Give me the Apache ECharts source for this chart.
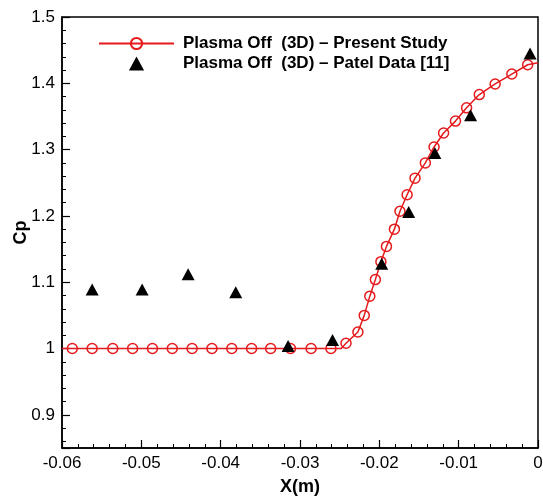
<!DOCTYPE html>
<html>
<head>
<meta charset="utf-8">
<script src="https://cdn.jsdelivr.net/npm/echarts@6/dist/echarts.min.js"></script>
<style>
html,body{margin:0;padding:0;background:#fff;}
#chart{width:543px;height:499px;}
</style>
</head>
<body>
<div id="chart"></div>
<script>
// Present study (CFD) marker points
var studyX = [-0.0587,-0.0562,-0.0536,-0.0511,-0.0486,-0.0461,-0.0436,-0.0411,-0.0386,-0.0361,-0.0337,-0.0312,-0.0286,-0.0261,
  -0.0242,-0.0227,-0.0219,-0.0212,-0.0205,-0.0198,-0.0191,-0.0181,-0.0174,-0.0165,-0.0155,-0.0142,-0.0131,-0.0119,-0.0104,-0.0090,-0.0074,-0.0054,-0.0033,-0.0013];
var studyCp = [1,1,1,1,1,1,1,1,1,1,1,1,1,1,
  1.008,1.025,1.050,1.079,1.104,1.131,1.154,1.180,1.207,1.232,1.257,1.280,1.304,1.325,1.343,1.363,1.383,1.399,1.414,1.428];
// Extra curve vertices without markers (start, kink, end)
var curveExtraX = [-0.06, -0.0248, 0];
var curveExtraCp = [1, 1, 1.431];
// Patel experimental data
var patelX = [-0.0562,-0.0499,-0.0441,-0.0381,-0.0315,-0.0259,-0.0197,-0.0163,-0.0130,-0.0085,-0.0010];
var patelCp = [1.089,1.089,1.112,1.085,1.004,1.013,1.128,1.206,1.295,1.352,1.445];

var seriesNames = ['Plasma Off  (3D) \u2013 Present Study', 'Plasma Off  (3D) \u2013 Patel Data [11]'];

var curve = [];
studyX.forEach(function(x,i){ curve.push({value:[x, studyCp[i]]}); });
curveExtraX.forEach(function(x,i){ curve.push({value:[x, curveExtraCp[i]], symbol:'none'}); });
curve.sort(function(a,b){ return a.value[0]-b.value[0]; });

var patel = patelX.map(function(x,i){ return [x, patelCp[i]]; });

var red = '#e41a1c';
var font = 'Liberation Sans, Arial, sans-serif';
var chart = echarts.init(document.getElementById('chart'), null, {renderer:'canvas'});
chart.setOption({
  animation:false,
  backgroundColor:'#fff',
  textStyle:{fontFamily:font},
  grid:{left:62, right:5, top:17, bottom:51, show:true, borderColor:'#000', borderWidth:1.5, containLabel:false, outerBoundsMode:'none'},
  legend:{
    orient:'vertical', left:93, top:30, itemWidth:75, itemHeight:14, itemGap:3,
    textStyle:{fontFamily:font, fontSize:17, fontWeight:'bold', color:'#000', padding:[0,0,0,4]},
    data:[
      {name:seriesNames[0]},
      {name:seriesNames[1], icon:'path://M0,12L6.5,0L13,12Z'}
    ]
  },
  xAxis:{
    type:'value', min:-0.06, max:0, interval:0.01,
    name:'X(m)', nameLocation:'middle', nameGap:30, nameMoveOverlap:false,
    nameTextStyle:{fontFamily:font, fontSize:18, fontWeight:'bold', color:'#000'},
    axisLine:{onZero:false, lineStyle:{color:'#000', width:1.5}},
    axisTick:{inside:true, length:8, lineStyle:{color:'#000', width:1.2}},
    minorTick:{show:true, splitNumber:5, length:4, lineStyle:{color:'#000', width:1}},
    axisLabel:{fontSize:17, color:'#000', margin:7},
    splitLine:{show:false}
  },
  yAxis:{
    type:'value', min:0.85, max:1.5, splitNumber:6,
    name:'Cp', nameLocation:'middle', nameGap:32, nameMoveOverlap:false,
    nameTextStyle:{fontFamily:font, fontSize:18, fontWeight:'bold', color:'#000'},
    axisLine:{onZero:false, lineStyle:{color:'#000', width:1.5}},
    axisTick:{inside:true, length:8, lineStyle:{color:'#000', width:1.2}},
    minorTick:{show:true, splitNumber:5, length:4, lineStyle:{color:'#000', width:1}},
    axisLabel:{fontSize:17, color:'#000', margin:7, showMinLabel:false},
    splitLine:{show:false}
  },
  series:[
    {
      name:seriesNames[0], type:'line', data:curve,
      symbol:'circle', symbolSize:10, showAllSymbol:true,
      lineStyle:{color:red, width:1.5},
      itemStyle:{color:'rgba(255,255,255,0)', borderColor:red, borderWidth:1.5},
      z:2
    },
    {
      name:seriesNames[1], type:'scatter', data:patel,
      symbol:'triangle', symbolSize:[13,12], symbolKeepAspect:true,
      itemStyle:{color:'#000', opacity:1},
      z:3
    }
  ]
});
</script>
</body>
</html>
